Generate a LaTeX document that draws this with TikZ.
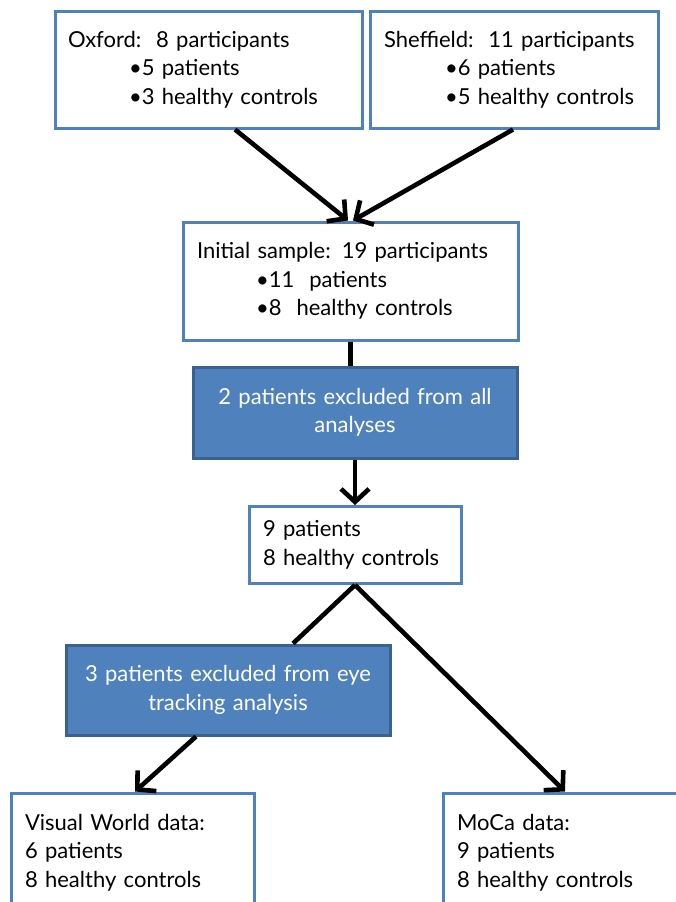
\documentclass[tikz,border=0pt]{standalone}
\usepackage{fontspec}
\setmainfont{Lato}
\usetikzlibrary{arrows.meta}
\definecolor{boxblue}{HTML}{4F81BD}
\definecolor{boxedge}{HTML}{3B6193}
\newcommand{\bul}{\hspace*{61pt}•}
\begin{document}
\begin{tikzpicture}[x=1pt,y=-1pt,
  font=\fontsize{22}{28.5}\selectfont,
  infobox/.style={draw=boxblue, line width=3pt, fill=white, inner sep=0pt, align=left},
  exclbox/.style={draw=boxedge, line width=3pt, fill=boxblue, text=white, inner sep=0pt, align=center},
  link/.style={line width=4.6pt, black},
  arr/.style={link, -{Straight Barb[length=13pt,width=28pt,line width=4.6pt]}}]
\useasboundingbox (0,0) rectangle (676,902);
\fill[white] (0,0) rectangle (676,902);

% sites
\node[infobox, minimum width=307pt, minimum height=117pt, text width=281pt] (ox) at (208.5,69.5)
  {Oxford:\ \ 8 participants\\ \bul5 patients\\ \bul3 healthy controls};
\node[infobox, minimum width=288pt, minimum height=117pt, text width=260pt] (sh) at (514,69.5)
  {Sheffield:\ \ 11 participants\\ \bul6 patients\\ \bul5 healthy controls};

% pooled sample
\node[infobox, minimum width=335pt, minimum height=118pt, text width=307pt] (init) at (350.5,281)
  {Initial sample: 19 participants\\ \hspace*{59pt}•11\hspace{0.35em} patients\\ \hspace*{59pt}•8\hspace{0.35em} healthy controls};
\node[exclbox, minimum width=324pt, minimum height=91pt, text width=300pt] (ex1) at (355,412.5)
  {2 patients excluded from all\\ analyses};
\node[infobox, minimum width=212pt, minimum height=77pt, text width=184pt] (mid) at (355,545)
  {9 patients\\ 8 healthy controls};

% analyses
\node[exclbox, minimum width=324pt, minimum height=90pt, text width=300pt] (ex2) at (228,690)
  {3 patients excluded from eye\\ tracking analysis};
\node[infobox, minimum width=243pt, minimum height=119pt, text width=215pt] (vw) at (132.5,852.5)
  {Visual World data:\\ 6 patients\\ 8 healthy controls};
\node[infobox, minimum width=247pt, minimum height=119pt, text width=219pt] (moca) at (566.5,852.5)
  {MoCa data:\\ 9 patients\\ 8 healthy controls};

% connectors
\draw[arr] ([xshift=26.5pt]ox.south) -- ([xshift=-2.5pt]init.north);
\draw[arr] ([xshift=-1pt]sh.south) -- ([xshift=2.5pt]init.north);
\draw[link] (init.south) -- (init.south |- ex1.north);
\draw[arr] (ex1.south) -- (mid.north);
\draw[link] (mid.south) -- ([xshift=65pt]ex2.north);
\draw[arr] (mid.south) -- ([xshift=-1.5pt]moca.north);
\draw[arr] ([xshift=-32pt]ex2.south) -- ([xshift=2.5pt]vw.north);
\end{tikzpicture}
\end{document}
